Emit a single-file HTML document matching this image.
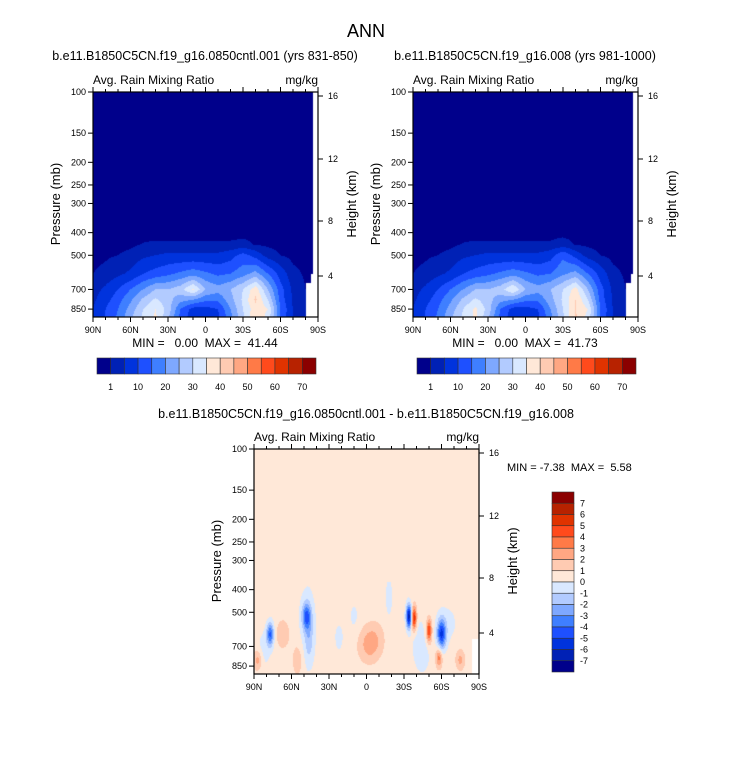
<!DOCTYPE html>
<html><head><meta charset="utf-8">
<style>
body{margin:0;background:#fff;width:733px;height:770px;overflow:hidden;font-family:"Liberation Sans",sans-serif}
svg text{font-family:"Liberation Sans",sans-serif;fill:#000;white-space:pre}
canvas{position:absolute}
</style></head>
<body>
<canvas id="c1" width="225" height="225" style="left:93px;top:92px"></canvas>
<canvas id="c2" width="225" height="225" style="left:413px;top:92px"></canvas>
<canvas id="c3" width="225" height="225" style="left:254px;top:449px"></canvas>
<svg id="s" width="733" height="770" style="position:absolute;left:0;top:0"></svg>
<script>
// ---- data ----
const lats = [90,80,70,60,50,40,30,20,10,0,-10,-20,-30,-40,-50,-60,-70,-80,-90];
const pLevels = [400,450,500,600,700,775,850,925];
const rainA = [
 [0,0,0,0,0,0,0,0,0,0,0,0,0,0,0,0,0,0,0],
 [0,0,0,0.3,1.2,1.5,1.5,1.5,1.5,1.5,1.5,1.5,2,0.8,0.3,0,0,0,0],
 [0,0.5,1,2,4,5,6,6,6,6,6,8,12,8,3,1,0,0,0],
 [1,2,4,6,10,12,14,16,18,16,14,15,18,22,15,8,2,0.5,0],
 [3,6,10,15,20,25,25,28,36,25,22,25,30,38,25,12,4,1,0],
 [4,8,13,19,26,31,27,22,20,16,16,23,31,41,30,13,4,1,0],
 [5,10,15,22,30,35,28,15,8,8,10,20,30,38,35,15,5,2,0],
 [5,10,16,24,31,36,26,13,7,7,9,18,29,40,33,14,5,2,0]
];
const rainB = [
 [0,0,0,0,0,0,0,0,0,0,0,0,0,0,0,0,0,0,0],
 [0,0,0,0.3,1.2,1.5,1.5,1.5,1.5,1.5,1.5,1.5,2.5,0.8,0.3,0,0,0,0],
 [0,0.5,1,2,4,5,6,6,6,6,6,8,14,8,3,1,0,0,0],
 [1,2,4,6,10,12,14,16,18,16,14,15,19,22,15,8,2,0.5,0],
 [3,6,10,15,20,25,25,28,35,25,22,25,30,37,25,12,4,1,0],
 [4,8,13,19,26,31,27,22,20,16,16,23,31,40,30,13,4,1,0],
 [5,10,15,22,30,36,28,15,8,8,10,20,30,40,35,15,5,2,0],
 [5,10,16,24,31,36,26,13,7,7,9,18,29,41,33,14,5,2,0]
];
// difference blobs: [lat, pressure(mb), amplitude, latWidth(deg), pWidth(log10 units)]
const diffBase = 0.5;
const diffBlobs = [
 [77,620,-4.5,2,0.035],[48,520,-4,2.5,0.04],[46,650,-1.5,2.5,0.07],[47,560,-0.9,5,0.14],
 [-34,520,-7,1.6,0.035],[-38,530,5.5,1.5,0.035],[-50,600,4.5,1.5,0.035],[-60,620,-5.5,2.5,0.045],
 [-58,780,3,1.8,0.03],[-2,700,1.6,6,0.05],[-6,640,1,6,0.05],[67,620,1.5,3.5,0.04],[87,800,2,2.5,0.03],
 [-42,650,-0.8,5,0.08],[-65,560,-0.8,6,0.06],[-18,430,-0.8,2.5,0.08],[82,720,-0.9,4,0.06],
 [22,640,-0.8,3,0.05],[10,520,-0.7,3,0.05],[-75,800,1.8,2.5,0.03],[55,800,1.2,3,0.05],[-45,780,-0.8,4,0.05]
];
const rainLevels = [1,5,10,15,20,25,30,35,40,45,50,55,60,65,70];
const rainLabels = ["1","10","20","30","40","50","60","70"];
const diffLevels = [-7,-6,-5,-4,-3,-2,-1,0,1,2,3,4,5,6,7];
const pTicks = [100,150,200,250,300,400,500,700,850];
const hTicks = [[16,4],[12,67],[8,129],[4,184]];
const latTicks = ["90N","60N","30N","0","30S","60S","90S"];
// -----
const colors = ["#00008b","#0021b5","#0033dd","#1e50ff","#3f7fff","#7ea8ff","#b2cbff","#d9e8ff","#ffe8d8","#ffcbb2","#ffa783","#ff7a47","#ff4a1c","#e03300","#b72200","#8b0000"];
const W=225,H=225,PPD=233.6;
function yOfP(p){return (Math.log10(p)-2)*PPD;}
function interpGrid(g,lat,p){
  const lp=Math.log10(p);
  if(p<pLevels[0]) return 0;
  let j=0; while(j<pLevels.length-2 && p>pLevels[j+1]) j++;
  let ty=(lp-Math.log10(pLevels[j]))/(Math.log10(pLevels[j+1])-Math.log10(pLevels[j])); ty=Math.max(0,Math.min(1,ty));
  let fi=(90-lat)/10; let i=Math.min(17,Math.floor(fi)); let tx=fi-i;
  const a=g[j][i]*(1-tx)+g[j][i+1]*tx, b=g[j+1][i]*(1-tx)+g[j+1][i+1]*tx;
  return a*(1-ty)+b*ty;
}
function masked(lat,p){return (lat<-84&&p>600)||(lat<-80&&p>660)||(lat<-86);}
function idx(v,lv){let k=0;while(k<lv.length&&v>=lv[k])k++;return k;}
function hex(c){return [parseInt(c.substr(1,2),16),parseInt(c.substr(3,2),16),parseInt(c.substr(5,2),16)];}
const rgb=colors.map(hex);
function paint(id,fn,lv){
  const cv=document.getElementById(id),ctx=cv.getContext('2d'),im=ctx.createImageData(W,H);
  for(let y=0;y<H;y++)for(let x=0;x<W;x++){
    const lat=90-180*(x+0.5)/W,p=Math.pow(10,2+(y+0.5)/PPD);
    let c=[255,255,255];
    const m = id==='c3' ? (lat<-84&&p>650) : masked(lat,p);
    if(!m){const v=fn(lat,p);c=rgb[idx(v,lv)];}
    const o=(y*W+x)*4;im.data[o]=c[0];im.data[o+1]=c[1];im.data[o+2]=c[2];im.data[o+3]=255;
  }
  ctx.putImageData(im,0,0);
}
paint('c1',(l,p)=>interpGrid(rainA,l,p),rainLevels);
paint('c2',(l,p)=>interpGrid(rainB,l,p),rainLevels);
paint('c3',(l,p)=>{let v=diffBase;if(p<370)return v;for(const b of diffBlobs){const dl=(l-b[0])/b[3],dp=(Math.log10(p)-Math.log10(b[1]))/b[4];v+=b[2]*Math.exp(-0.5*(dl*dl+dp*dp));}return v;},diffLevels);

// ---- svg axes ----
const S=document.getElementById('s'),NS='http://www.w3.org/2000/svg';
function el(t,a,txt){const e=document.createElementNS(NS,t);for(const k in a)e.setAttribute(k,a[k]);if(txt!==undefined)e.textContent=txt;S.appendChild(e);return e;}
function txt(x,y,s,size,anchor,name,rot){const e=el('text',{x:x,y:y,'font-size':size,'text-anchor':anchor||'start'},s);
 
 
 if(rot)e.setAttribute('transform','rotate(-90 '+x+' '+y+')');return e;}
function panel(x0,y0,title,sub,mm,pre){
  if(title)txt(x0+112,y0-32,title,12.5,'middle',pre+'-title');
  txt(x0,y0-8,'Avg. Rain Mixing Ratio',12,'start',pre+'-variable-label');
  txt(x0+225,y0-8,'mg/kg',12,'end',pre+'-units-label');
  const r=el('rect',{x:x0,y:y0,width:W,height:H,fill:'none',stroke:'#000','stroke-width':1.2});
  
  
  pTicks.forEach(p=>{const y=y0+yOfP(p);el('line',{x1:x0-5,x2:x0,y1:y,y2:y,stroke:'#000'});
    txt(x0-7,y+3,String(p),9,'end',pre+'-pressure-tick');});
  hTicks.forEach(h=>{const y=y0+h[1];el('line',{x1:x0+W,x2:x0+W+5,y1:y,y2:y,stroke:'#000'});
    txt(x0+W+10,y+3,String(h[0]),9,'start',pre+'-height-tick');});
  latTicks.forEach((l,i)=>{const x=x0+i*W/6;el('line',{x1:x,x2:x,y1:y0+H,y2:y0+H+5,stroke:'#000'});el('line',{x1:x,x2:x,y1:y0,y2:y0-5,stroke:'#000'});
    txt(x,y0+H+16,l,9,'middle',pre+'-lat-tick');});
  for(let i=1;i<18;i++){const x=x0+i*W/18;el('line',{x1:x,x2:x,y1:y0+H,y2:y0+H+3,stroke:'#000'});el('line',{x1:x,x2:x,y1:y0,y2:y0-3,stroke:'#000'});}
  txt(x0-33,y0+112,'Pressure (mb)',13,'middle',pre+'-y-axis-title',true);
  txt(x0+W+38,y0+112,'Height (km)',13,'middle',pre+'-right-axis-title',true);
  if(mm)txt(x0+112,y0+H+30,mm,12,'middle',pre+'-min-max');
}
txt(366,37,'ANN',18,'middle','main-title');
panel(93,92,'b.e11.B1850C5CN.f19_g16.0850cntl.001 (yrs 831-850)',1,'MIN =   0.00  MAX =  41.44','left-panel');
panel(413,92,'b.e11.B1850C5CN.f19_g16.008 (yrs 981-1000)',1,'MIN =   0.00  MAX =  41.73','right-panel');
panel(254,449,null,1,null,'diff-panel');
txt(366,418,'b.e11.B1850C5CN.f19_g16.0850cntl.001 - b.e11.B1850C5CN.f19_g16.008',12.5,'middle','diff-title');
txt(507,471,'MIN = -7.38  MAX =  5.58',11,'start','diff-min-max');
// horizontal colorbars
function hbar(x0,pre){const w=219/16;colors.forEach((c,i)=>{const r=el('rect',{x:x0+i*w,y:358,width:w,height:16,fill:c,stroke:'#333','stroke-width':0.6});
  
  });
  rainLabels.forEach((l,i)=>txt(x0+(2*i+1)*w,390,l,9,'middle',pre+'-colorbar-label'));}
hbar(97,'left');hbar(417,'right');
// vertical colorbar
(function(){const h=180/16;for(let i=0;i<16;i++){const r=el('rect',{x:552,y:492+i*h,width:22,height:h,fill:colors[15-i],stroke:'#333','stroke-width':0.6});
  
  }
  diffLevels.slice().reverse().forEach((v,i)=>txt(580,492+(i+1)*h+3,String(v),9,'start','diff-colorbar-label'));})();
</script>
</body></html>
